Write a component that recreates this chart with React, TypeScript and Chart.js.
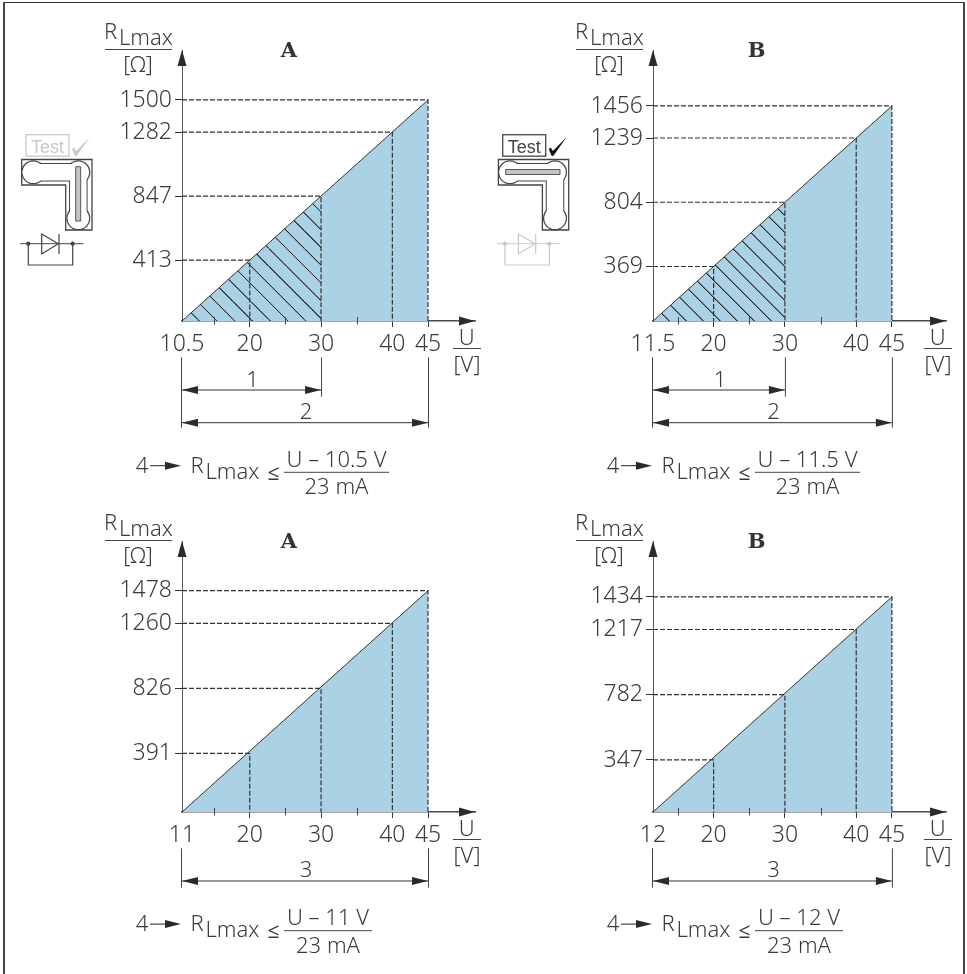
import React, { useEffect, useRef } from 'react';
import { Chart, registerables } from 'chart.js';

Chart.register(...registerables);

// ---- data ----
const panelTitles = ['A', 'B', 'A', 'B'];
const axisOrigins = [10.5, 11.5, 10.5, 11.5];
const startLabels = ['10.5', '11.5', '11', '12'];
const formulaNumerators = ['U – 10.5 V', 'U – 11.5 V', 'U – 11 V', 'U – 12 V'];
const voltageTicks = [20, 30, 40, 45];
const minorVoltageTicks = [15, 25, 35];
const resistanceA1 = [413, 847, 1282, 1500];
const resistanceB1 = [369, 804, 1239, 1456];
const resistanceA2 = [391, 826, 1260, 1478];
const resistanceB2 = [347, 782, 1217, 1434];
const panelResistances = [resistanceA1, resistanceB1, resistanceA2, resistanceB2];
const axisTopValues = [1839, 1835, 1810, 1807];
const hatchEndVoltage = 30;
const voltageSpan = 41.09;

// ---- layout ----
const W = 490;
const H = 505;
const OX = 182;
const OY = 321;
const TIP_X = 475;
const TIP_Y = 50;
const panelLefts = [0, 471, 0, 471];
const panelTops = [0, 0, 491, 491];
const hatchGaps = [17.75, 17, 0, 0];
const hatchStarts = [199.3, 198.3, 0, 0];
const ruleLengths = [105, 105, 88, 88];

const INK = '#3a3a3a';
const FONT = '"Noto Sans", "Open Sans", sans-serif';
const WEIGHT = '300';
const BLUE = '#abd1e5';
const GHOST = '#c9c9c9';

function makeHatch(ctx: CanvasRenderingContext2D, gap: number, start: number) {
  const size = 64;
  const tile = document.createElement('canvas');
  tile.width = size;
  tile.height = size;
  const t = tile.getContext('2d')!;
  const s = gap / size;
  t.strokeStyle = '#2b2b2b';
  t.lineWidth = 1 / s;
  for (const off of [-size, 0, size]) {
    t.beginPath();
    t.moveTo(off, 0);
    t.lineTo(off + size, size);
    t.stroke();
  }
  const p = ctx.createPattern(tile, 'repeat')!;
  p.setTransform(new DOMMatrix().translate(start - OY, 0).scale(s));
  return p;
}

function text(
  c: CanvasRenderingContext2D,
  s: string,
  x: number,
  y: number,
  align: CanvasTextAlign = 'center',
  font = `${WEIGHT} 23px ${FONT}`,
  color = INK,
) {
  c.font = font;
  c.fillStyle = color;
  c.textAlign = align;
  c.textBaseline = 'alphabetic';
  c.fillText(s, x, y);
}

function seg(c: CanvasRenderingContext2D, x1: number, y1: number, x2: number, y2: number, w = 1, color = INK) {
  c.strokeStyle = color;
  c.lineWidth = w;
  c.setLineDash([]);
  c.beginPath();
  c.moveTo(x1, y1);
  c.lineTo(x2, y2);
  c.stroke();
}

function head(c: CanvasRenderingContext2D, tipX: number, tipY: number, dx: number, dy: number, len: number, half: number, color = '#2b2b2b') {
  const bx = tipX - dx * len;
  const by = tipY - dy * len;
  c.fillStyle = color;
  c.beginPath();
  c.moveTo(tipX, tipY);
  c.lineTo(bx - dy * half, by + dx * half);
  c.lineTo(bx + dy * half, by - dx * half);
  c.closePath();
  c.fill();
}

function rLmax(c: CanvasRenderingContext2D, x: number, y: number) {
  text(c, 'R', x, y, 'left', `${WEIGHT} 22px ${FONT}`);
  text(c, 'Lmax', x + 15, y + 6, 'left', `${WEIGHT} 22px ${FONT}`);
}

function drawIcon(c: CanvasRenderingContext2D, index: number) {
  const horizontal = index === 1;
  const dx = horizontal ? 5.7 : 0;
  const testInk = horizontal ? '#444' : GHOST;
  const checkInk = horizontal ? '#111' : GHOST;
  const diodeInk = horizontal ? GHOST : '#444';
  c.save();
  c.translate(dx, 0);
  // Test label
  c.strokeStyle = testInk;
  c.lineWidth = 1.3;
  c.strokeRect(26, 134.7, 43, 21.5);
  text(c, 'Test', 47.5, 152.5, 'center', '18px "Liberation Sans", sans-serif', testInk);
  c.fillStyle = checkInk;
  c.beginPath();
  c.moveTo(72, 149);
  c.lineTo(74, 147.5);
  c.lineTo(76.2, 151);
  c.lineTo(90, 137);
  c.lineTo(76.5, 156);
  c.lineTo(75, 156);
  c.closePath();
  c.fill();
  // L-shaped housing
  c.strokeStyle = '#444';
  c.lineWidth = 1.3;
  c.beginPath();
  c.moveTo(21.7, 159.5);
  c.lineTo(92, 159.5);
  c.lineTo(92, 230);
  c.lineTo(65.7, 230);
  c.lineTo(65.7, 185);
  c.lineTo(21.7, 185);
  c.closePath();
  c.stroke();
  // dog-bone channel
  const bone = (tube: number, r: number, color: string) => {
    c.strokeStyle = color;
    c.fillStyle = color;
    c.lineWidth = tube;
    c.lineJoin = 'round';
    c.beginPath();
    c.moveTo(33.3, 172.3);
    c.lineTo(78.3, 172.3);
    c.lineTo(78.3, 218.3);
    c.stroke();
    for (const [x, y] of [[33.3, 172.3], [78.3, 172.3], [78.3, 218.3]]) {
      c.beginPath();
      c.arc(x, y, r, 0, Math.PI * 2);
      c.fill();
    }
  };
  bone(18.5, 12, '#444');
  bone(16.5, 10.8, '#fff');
  // slider bar
  c.fillStyle = '#c4c4c4';
  c.strokeStyle = '#555';
  c.lineWidth = 1;
  if (horizontal) {
    c.fillRect(29, 169.5, 54.3, 5);
    c.strokeRect(29, 169.5, 54.3, 5);
  } else {
    c.fillRect(75.7, 166.7, 5, 54.3);
    c.strokeRect(75.7, 166.7, 5, 54.3);
  }
  // diode
  seg(c, 20, 243.7, 83.3, 243.7, 1, diodeInk);
  c.strokeStyle = diodeInk;
  c.lineWidth = 1.2;
  c.beginPath();
  c.moveTo(41.7, 234);
  c.lineTo(41.7, 254);
  c.lineTo(58.3, 243.7);
  c.closePath();
  c.stroke();
  seg(c, 59, 234, 59, 254, 1.2, diodeInk);
  c.beginPath();
  c.moveTo(28.3, 243.7);
  c.lineTo(28.3, 265);
  c.lineTo(72.7, 265);
  c.lineTo(72.7, 243.7);
  c.stroke();
  c.fillStyle = diodeInk;
  for (const x of [28.3, 72.7]) {
    c.beginPath();
    c.arc(x, 243.7, 2.1, 0, Math.PI * 2);
    c.fill();
  }
  c.restore();
}

function buildChart(canvas: HTMLCanvasElement, index: number) {
  const ctx = canvas.getContext('2d')!;
  const origin = axisOrigins[index];
  const values = panelResistances[index];
  const top = values[values.length - 1];
  const guides = voltageTicks.map((u, i) => ({
    data: [
      { x: origin, y: values[i] },
      { x: u, y: values[i] },
      { x: u, y: 0 },
    ],
    borderColor: '#333',
    borderWidth: 1.2,
    borderDash: [5, 2],
    pointRadius: 0,
    fill: false,
    tension: 0,
    order: 1,
  }));
  const datasets: any[] = [...guides];
  if (hatchGaps[index] > 0) {
    const k = voltageTicks.indexOf(hatchEndVoltage);
    datasets.push({
      data: [
        { x: origin, y: 0 },
        { x: hatchEndVoltage, y: values[k] },
      ],
      borderWidth: 0,
      borderColor: 'rgba(0,0,0,0)',
      backgroundColor: makeHatch(ctx, hatchGaps[index], hatchStarts[index]),
      pointRadius: 0,
      fill: 'origin',
      order: 2,
    });
  }
  datasets.push({
    data: [
      { x: origin, y: 0 },
      { x: voltageTicks[voltageTicks.length - 1], y: top },
    ],
    borderColor: '#333',
    borderWidth: 1,
    backgroundColor: BLUE,
    pointRadius: 0,
    fill: 'origin',
    order: 3,
  });

  const overlay = {
    id: 'overlay',
    afterDraw(chart: any) {
      const c: CanvasRenderingContext2D = chart.ctx;
      const xs = chart.scales.x;
      c.save();
      // axis arrows
      head(c, TIP_X, OY, 1, 0, 16, 4.5);
      head(c, OX, TIP_Y, 0, -1, 16, 4.5);
      // minor ticks
      for (const u of minorVoltageTicks) {
        if (u <= origin) continue;
        const px = Math.round(xs.getPixelForValue(u)) + 0.5;
        seg(c, px, OY - 4, px, OY + 3.5, 1, '#444');
      }
      // y heading
      rLmax(c, 104, 39);
      seg(c, 105, 49.5, 172, 49.5, 1, '#444');
      text(c, '[Ω]', 138, 72, 'center', `${WEIGHT} 22px ${FONT}`);
      // x heading
      text(c, 'U', 466.7, 345, 'center', `${WEIGHT} 22px ${FONT}`);
      seg(c, 453, 348.5, 481, 348.5, 1, '#444');
      text(c, '[V]', 467, 371.5, 'center', `${WEIGHT} 22px ${FONT}`);
      // panel letter
      text(c, panelTitles[index], index % 2 ? 285.7 : 289, 57.3, 'center', 'bold 21px "DejaVu Serif", serif', '#333');
      // dimension arrows
      const x0 = xs.getPixelForValue(origin);
      const x45 = xs.getPixelForValue(45);
      const arrow = (xEnd: number, y: number, yEnd: number, label: string, labelY: number) => {
        seg(c, xEnd + 0.5, 357.3, xEnd + 0.5, yEnd, 1, '#444');
        seg(c, x0, y, xEnd, y, 1, '#333');
        head(c, x0, y, -1, 0, 16, 4);
        head(c, xEnd, y, 1, 0, 16, 4);
        text(c, label, (x0 + xEnd) / 2 + 1, labelY, 'center', `${WEIGHT} 22px ${FONT}`);
      };
      if (index < 2) {
        seg(c, x0 - 0.5, 357.3, x0 - 0.5, 427.7, 1, '#444');
        arrow(xs.getPixelForValue(hatchEndVoltage), 390, 396.7, '1', 386.7);
        arrow(x45, 422.7, 427.7, '2', 419.3);
      } else {
        seg(c, x0 - 0.5, 357.3, x0 - 0.5, 396.7, 1, '#444');
        arrow(x45, 390, 396.7, '3', 386);
      }
      // formula
      const rule = index < 2 ? 472.3 : 439.7;
      text(c, '4', 142, rule + 0.7, 'center', `${WEIGHT} 22px ${FONT}`);
      seg(c, 150, rule - 6.6, 166, rule - 6.6, 1, '#222');
      head(c, 181, rule - 6.6, 1, 0, 16, 4);
      rLmax(c, 190.5, rule + 0.7);
      text(c, '≤', 273.5, rule + 7.5, 'center', `400 21px ${FONT}`);
      const len = ruleLengths[index];
      seg(c, 284, rule, 284 + len, rule, 1, '#444');
      text(c, formulaNumerators[index], 284 + len / 2, rule - 5.7, 'center', `${WEIGHT} 22px ${FONT}`);
      text(c, '23 mA', 284 + len / 2, rule + 22, 'center', `${WEIGHT} 22px ${FONT}`);
      if (index < 2) drawIcon(c, index);
      c.restore();
    },
  };

  return new Chart(canvas, {
    type: 'line',
    data: { datasets },
    plugins: [overlay],
    options: {
      animation: false,
      responsive: false,
      maintainAspectRatio: false,
      parsing: false,
      normalized: true,
      layout: { padding: { left: 0, top: TIP_Y, right: W - TIP_X, bottom: 0 } },
      plugins: { legend: { display: false }, tooltip: { enabled: false }, title: { display: false } },
      scales: {
        x: {
          type: 'linear',
          min: origin,
          max: origin + voltageSpan,
          afterFit(scale: any) {
            scale.height = H - OY;
          },
          afterBuildTicks(scale: any) {
            scale.ticks = [origin, ...voltageTicks].map((value) => ({ value }));
          },
          border: { display: true, color: '#4a4a4a', width: 1.5 },
          grid: {
            drawOnChartArea: false,
            drawTicks: true,
            tickLength: 6,
            tickColor: (ctx2: any) => (ctx2.tick && ctx2.tick.value === origin ? 'rgba(0,0,0,0)' : '#333'),
          },
          ticks: {
            autoSkip: false,
            maxRotation: 0,
            minRotation: 0,
            padding: 4,
            color: INK,
            font: { family: FONT, size: 23, weight: WEIGHT },
            callback: (v: any) => (v === origin ? startLabels[index] : String(v)),
          },
        },
        y: {
          type: 'linear',
          min: 0,
          max: axisTopValues[index],
          afterFit(scale: any) {
            scale.width = OX;
          },
          afterBuildTicks(scale: any) {
            scale.ticks = values.map((value) => ({ value }));
          },
          border: { display: true, color: '#555', width: 1 },
          grid: { drawOnChartArea: false, drawTicks: true, tickLength: 7, tickColor: '#333' },
          ticks: {
            autoSkip: false,
            padding: 3,
            color: INK,
            font: { family: FONT, size: 23, weight: WEIGHT },
            callback: (v: any) => String(v),
          },
        },
      },
    } as any,
  });
}

function Panel({ index }: { index: number }) {
  const ref = useRef<HTMLCanvasElement>(null);
  useEffect(() => {
    const chart = buildChart(ref.current!, index);
    return () => chart.destroy();
  }, [index]);
  return (
    <canvas
      ref={ref}
      width={W}
      height={H}
      style={{ position: 'absolute', left: panelLefts[index], top: panelTops[index], width: W, height: H }}
    />
  );
}

export default function App() {
  return (
    <div
      style={{
        position: 'absolute',
        left: 0,
        top: 0,
        width: 967,
        height: 974,
        overflow: 'hidden',
        background: '#fff',
      }}
    >
      <div
        style={{
          position: 'absolute',
          left: 3,
          top: 2,
          width: 958,
          height: 972,
          borderLeft: '2px solid #444',
          borderRight: '2px solid #444',
          borderTop: '1px solid #333',
        }}
      />
      {[0, 1, 2, 3].map((i) => (
        <Panel key={i} index={i} />
      ))}
    </div>
  );
}
